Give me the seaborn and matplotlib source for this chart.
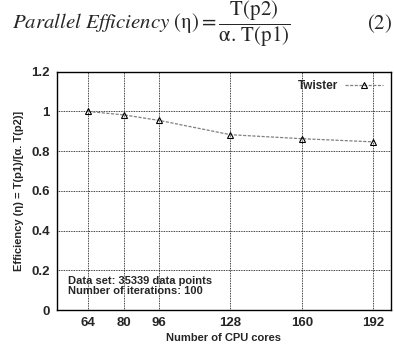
import matplotlib
matplotlib.use("Agg")
import matplotlib.pyplot as plt
import seaborn as sns
import pandas as pd

cores = [64, 80, 96, 128, 160, 192]
efficiency = [1.0, 0.983, 0.955, 0.883, 0.863, 0.847]
series_name = "Twister"
y_ticks = [0, 0.2, 0.4, 0.6, 0.8, 1.0, 1.2]
y_tick_labels = ["0", "0.2", "0.4", "0.6", "0.8", "1", "1.2"]
annotation = "Data set: 35339 data points\nNumber of iterations: 100"

sns.set_style("white")
plt.rcParams["font.family"] = ["Liberation Sans", "DejaVu Sans"]
plt.rcParams["mathtext.fontset"] = "stix"

df = pd.DataFrame({"cores": cores, "eff": efficiency, "series": series_name})

fig = plt.figure(figsize=(3.94, 3.5), dpi=100)
ax = fig.add_axes([0.144, 0.114, 0.848, 0.681])

sns.lineplot(data=df, x="cores", y="eff", hue="series", palette=["#808080"],
             marker="^", markersize=5, markerfacecolor="none",
             markeredgecolor="black", markeredgewidth=0.8,
             linestyle=(0, (2.5, 1.2)), linewidth=0.9, ax=ax)

ax.set_xlim(50, 200)
ax.set_ylim(0, 1.2)
ax.set_xticks(cores)
ax.set_xticklabels([str(c) for c in cores], fontweight="bold", fontsize=9.5)
ax.set_yticks(y_ticks)
ax.set_yticklabels(y_tick_labels, fontweight="bold", fontsize=9.5)
ax.grid(True, color="black", linestyle=(0, (1, 1)), linewidth=0.6)
for s in ax.spines.values():
    s.set_color("black")
    s.set_linewidth(1.0)
ax.tick_params(direction="in", length=3, color="black", pad=5)
ax.set_xlabel("Number of CPU cores", fontweight="bold", fontsize=8, labelpad=3)
ax.set_ylabel("Efficiency (η) = T(p1)/[α. T(p2)]", fontweight="bold", fontsize=8, labelpad=5)

leg = ax.legend(loc="upper right", frameon=False, fontsize=8.5, handlelength=3.2,
                borderaxespad=0.3, markerfirst=False, handletextpad=0.6)
for t in leg.get_texts():
    t.set_fontweight("bold")

ax.text(0.035, 0.145, annotation, transform=ax.transAxes, fontsize=8,
        fontweight="bold", va="top", ha="left", linespacing=1.0)

fig.text(0.03, 0.932,
         r"$\mathit{Parallel\ Efficiency}\ (\mathrm{\eta}) = \dfrac{\mathrm{T(p2)}}{\mathrm{\alpha.\,T(p1)}}$",
         fontsize=15, va="center", ha="left")
fig.text(0.995, 0.932, r"$(2)$", fontsize=15, va="center", ha="right")

fig.savefig("out.png", dpi=100, facecolor="white")
